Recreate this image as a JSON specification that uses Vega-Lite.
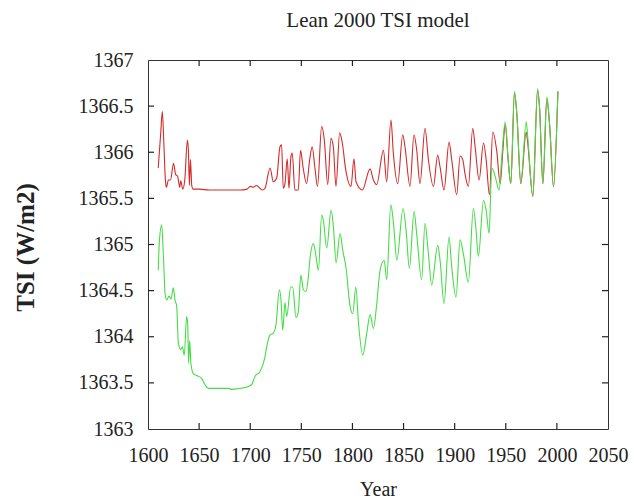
{
  "$schema": "https://vega.github.io/schema/vega-lite/v6.json",
  "width": 460,
  "height": 369,
  "autosize": {"type": "none"},
  "padding": {"left": 148, "top": 60, "right": 26, "bottom": 70},
  "background": "white",
  "title": {"text": "Lean 2000 TSI model", "font": "Liberation Serif", "fontSize": 21, "fontWeight": "normal", "color": "#222", "offset": 19, "anchor": "middle"},
  "config": {
    "view": {"stroke": "#333", "strokeWidth": 1},
    "axis": {"grid": false, "domain": false, "ticks": false, "labelFont": "Liberation Serif", "labelFontSize": 20, "labelColor": "#222", "labelOverlap": false, "labelBound": false, "labelFlush": false, "titleFont": "Liberation Serif", "titleFontSize": 20, "titleColor": "#222"}
  },
  "datasets": {
    "xticks": [{"year": 1650}, {"year": 1700}, {"year": 1750}, {"year": 1800}, {"year": 1850}, {"year": 1900}, {"year": 1950}, {"year": 2000}],
    "yticks": [{"tsi": 1363.5}, {"tsi": 1364}, {"tsi": 1364.5}, {"tsi": 1365}, {"tsi": 1365.5}, {"tsi": 1366}, {"tsi": 1366.5}],
    "tsi": [
    {"series": "Cycle only", "year": 1610, "tsi": 1365.83},
    {"series": "Cycle only", "year": 1612.4, "tsi": 1366.2},
    {"series": "Cycle only", "year": 1614, "tsi": 1366.44},
    {"series": "Cycle only", "year": 1615.5, "tsi": 1366.1},
    {"series": "Cycle only", "year": 1617, "tsi": 1365.7},
    {"series": "Cycle only", "year": 1618, "tsi": 1365.62},
    {"series": "Cycle only", "year": 1620, "tsi": 1365.7},
    {"series": "Cycle only", "year": 1622, "tsi": 1365.7},
    {"series": "Cycle only", "year": 1625, "tsi": 1365.88},
    {"series": "Cycle only", "year": 1627, "tsi": 1365.76},
    {"series": "Cycle only", "year": 1629, "tsi": 1365.74},
    {"series": "Cycle only", "year": 1631, "tsi": 1365.62},
    {"series": "Cycle only", "year": 1632, "tsi": 1365.69},
    {"series": "Cycle only", "year": 1634, "tsi": 1365.6},
    {"series": "Cycle only", "year": 1636, "tsi": 1365.7},
    {"series": "Cycle only", "year": 1638.5, "tsi": 1366.13},
    {"series": "Cycle only", "year": 1639.5, "tsi": 1366.03},
    {"series": "Cycle only", "year": 1640.5, "tsi": 1365.64},
    {"series": "Cycle only", "year": 1641.5, "tsi": 1365.92},
    {"series": "Cycle only", "year": 1642.8, "tsi": 1365.64},
    {"series": "Cycle only", "year": 1644, "tsi": 1365.6},
    {"series": "Cycle only", "year": 1650, "tsi": 1365.6},
    {"series": "Cycle only", "year": 1660, "tsi": 1365.59},
    {"series": "Cycle only", "year": 1670, "tsi": 1365.59},
    {"series": "Cycle only", "year": 1680, "tsi": 1365.59},
    {"series": "Cycle only", "year": 1690, "tsi": 1365.59},
    {"series": "Cycle only", "year": 1697, "tsi": 1365.6},
    {"series": "Cycle only", "year": 1700, "tsi": 1365.63},
    {"series": "Cycle only", "year": 1703, "tsi": 1365.62},
    {"series": "Cycle only", "year": 1706, "tsi": 1365.64},
    {"series": "Cycle only", "year": 1712, "tsi": 1365.59},
    {"series": "Cycle only", "year": 1714.5, "tsi": 1365.61},
    {"series": "Cycle only", "year": 1719.4, "tsi": 1365.83},
    {"series": "Cycle only", "year": 1722.6, "tsi": 1365.68},
    {"series": "Cycle only", "year": 1725.9, "tsi": 1365.72},
    {"series": "Cycle only", "year": 1729.1, "tsi": 1366.06},
    {"series": "Cycle only", "year": 1730.7, "tsi": 1366.08},
    {"series": "Cycle only", "year": 1732.3, "tsi": 1365.61},
    {"series": "Cycle only", "year": 1734, "tsi": 1365.66},
    {"series": "Cycle only", "year": 1736.2, "tsi": 1365.93},
    {"series": "Cycle only", "year": 1737.9, "tsi": 1365.61},
    {"series": "Cycle only", "year": 1739.8, "tsi": 1365.95},
    {"series": "Cycle only", "year": 1741.1, "tsi": 1365.99},
    {"series": "Cycle only", "year": 1743.7, "tsi": 1365.59},
    {"series": "Cycle only", "year": 1747, "tsi": 1365.59},
    {"series": "Cycle only", "year": 1749.2, "tsi": 1366.02},
    {"series": "Cycle only", "year": 1751.8, "tsi": 1365.83},
    {"series": "Cycle only", "year": 1755.1, "tsi": 1365.66},
    {"series": "Cycle only", "year": 1758.3, "tsi": 1365.93},
    {"series": "Cycle only", "year": 1760.6, "tsi": 1366.06},
    {"series": "Cycle only", "year": 1763.2, "tsi": 1365.84},
    {"series": "Cycle only", "year": 1765.8, "tsi": 1365.63},
    {"series": "Cycle only", "year": 1769.9, "tsi": 1366.28},
    {"series": "Cycle only", "year": 1772.5, "tsi": 1366.13},
    {"series": "Cycle only", "year": 1775.8, "tsi": 1365.65},
    {"series": "Cycle only", "year": 1779, "tsi": 1366.15},
    {"series": "Cycle only", "year": 1781.3, "tsi": 1366.06},
    {"series": "Cycle only", "year": 1783.9, "tsi": 1365.63},
    {"series": "Cycle only", "year": 1787.5, "tsi": 1366.21},
    {"series": "Cycle only", "year": 1790.1, "tsi": 1366.1},
    {"series": "Cycle only", "year": 1793.3, "tsi": 1365.82},
    {"series": "Cycle only", "year": 1798.6, "tsi": 1365.63},
    {"series": "Cycle only", "year": 1801.5, "tsi": 1365.93},
    {"series": "Cycle only", "year": 1803.5, "tsi": 1365.68},
    {"series": "Cycle only", "year": 1809.7, "tsi": 1365.59},
    {"series": "Cycle only", "year": 1817.2, "tsi": 1365.82},
    {"series": "Cycle only", "year": 1820.5, "tsi": 1365.7},
    {"series": "Cycle only", "year": 1823.7, "tsi": 1365.65},
    {"series": "Cycle only", "year": 1830.3, "tsi": 1366.02},
    {"series": "Cycle only", "year": 1833.5, "tsi": 1365.68},
    {"series": "Cycle only", "year": 1837.7, "tsi": 1366.35},
    {"series": "Cycle only", "year": 1840, "tsi": 1365.99},
    {"series": "Cycle only", "year": 1844.3, "tsi": 1365.66},
    {"series": "Cycle only", "year": 1849.2, "tsi": 1366.19},
    {"series": "Cycle only", "year": 1851.4, "tsi": 1366.06},
    {"series": "Cycle only", "year": 1856.3, "tsi": 1365.63},
    {"series": "Cycle only", "year": 1860.2, "tsi": 1366.19},
    {"series": "Cycle only", "year": 1862.8, "tsi": 1366.03},
    {"series": "Cycle only", "year": 1866.1, "tsi": 1365.66},
    {"series": "Cycle only", "year": 1871, "tsi": 1366.26},
    {"series": "Cycle only", "year": 1874.3, "tsi": 1365.92},
    {"series": "Cycle only", "year": 1879.2, "tsi": 1365.63},
    {"series": "Cycle only", "year": 1883.4, "tsi": 1365.97},
    {"series": "Cycle only", "year": 1885.7, "tsi": 1365.84},
    {"series": "Cycle only", "year": 1889.6, "tsi": 1365.59},
    {"series": "Cycle only", "year": 1894.5, "tsi": 1366.11},
    {"series": "Cycle only", "year": 1897.1, "tsi": 1365.92},
    {"series": "Cycle only", "year": 1902, "tsi": 1365.54},
    {"series": "Cycle only", "year": 1905.3, "tsi": 1365.96},
    {"series": "Cycle only", "year": 1907.9, "tsi": 1365.92},
    {"series": "Cycle only", "year": 1910.2, "tsi": 1365.76},
    {"series": "Cycle only", "year": 1913.4, "tsi": 1365.63},
    {"series": "Cycle only", "year": 1917.7, "tsi": 1366.26},
    {"series": "Cycle only", "year": 1920, "tsi": 1366.06},
    {"series": "Cycle only", "year": 1923.9, "tsi": 1365.7},
    {"series": "Cycle only", "year": 1928.2, "tsi": 1366.1},
    {"series": "Cycle only", "year": 1930.8, "tsi": 1365.92},
    {"series": "Cycle only", "year": 1934, "tsi": 1365.54},
    {"series": "Cycle only", "year": 1937.3, "tsi": 1366.22},
    {"series": "Cycle only", "year": 1941.2, "tsi": 1366.01},
    {"series": "Cycle only", "year": 1944.5, "tsi": 1365.66},
    {"series": "Cycle only", "year": 1947, "tsi": 1366.0},
    {"series": "Cycle only", "year": 1949.4, "tsi": 1366.3},
    {"series": "Cycle only", "year": 1952.6, "tsi": 1365.88},
    {"series": "Cycle only", "year": 1954.9, "tsi": 1365.66},
    {"series": "Cycle only", "year": 1958.5, "tsi": 1366.64},
    {"series": "Cycle only", "year": 1960.8, "tsi": 1366.42},
    {"series": "Cycle only", "year": 1964.7, "tsi": 1365.66},
    {"series": "Cycle only", "year": 1970, "tsi": 1366.22},
    {"series": "Cycle only", "year": 1971.3, "tsi": 1366.12},
    {"series": "Cycle only", "year": 1976.5, "tsi": 1365.52},
    {"series": "Cycle only", "year": 1981.1, "tsi": 1366.67},
    {"series": "Cycle only", "year": 1983, "tsi": 1366.49},
    {"series": "Cycle only", "year": 1986.3, "tsi": 1365.66},
    {"series": "Cycle only", "year": 1990.2, "tsi": 1366.58},
    {"series": "Cycle only", "year": 1992.8, "tsi": 1366.31},
    {"series": "Cycle only", "year": 1996.7, "tsi": 1365.63},
    {"series": "Cycle only", "year": 2001, "tsi": 1366.66},
    {"series": "With background", "year": 1610, "tsi": 1364.72},
    {"series": "With background", "year": 1611.2, "tsi": 1365.05},
    {"series": "With background", "year": 1613.4, "tsi": 1365.21},
    {"series": "With background", "year": 1615.1, "tsi": 1364.87},
    {"series": "With background", "year": 1616.7, "tsi": 1364.47},
    {"series": "With background", "year": 1618.3, "tsi": 1364.4},
    {"series": "With background", "year": 1620.6, "tsi": 1364.44},
    {"series": "With background", "year": 1622.5, "tsi": 1364.41},
    {"series": "With background", "year": 1624.8, "tsi": 1364.53},
    {"series": "With background", "year": 1626.4, "tsi": 1364.4},
    {"series": "With background", "year": 1628.1, "tsi": 1364.33},
    {"series": "With background", "year": 1629.7, "tsi": 1363.93},
    {"series": "With background", "year": 1632, "tsi": 1363.86},
    {"series": "With background", "year": 1633.6, "tsi": 1363.89},
    {"series": "With background", "year": 1635.5, "tsi": 1363.8},
    {"series": "With background", "year": 1637.8, "tsi": 1364.22},
    {"series": "With background", "year": 1638.8, "tsi": 1364.14},
    {"series": "With background", "year": 1639.8, "tsi": 1363.71},
    {"series": "With background", "year": 1640.7, "tsi": 1363.96},
    {"series": "With background", "year": 1642, "tsi": 1363.71},
    {"series": "With background", "year": 1644.3, "tsi": 1363.6},
    {"series": "With background", "year": 1647.5, "tsi": 1363.58},
    {"series": "With background", "year": 1652.4, "tsi": 1363.55},
    {"series": "With background", "year": 1655.7, "tsi": 1363.48},
    {"series": "With background", "year": 1659, "tsi": 1363.44},
    {"series": "With background", "year": 1670, "tsi": 1363.44},
    {"series": "With background", "year": 1678.6, "tsi": 1363.44},
    {"series": "With background", "year": 1681.8, "tsi": 1363.43},
    {"series": "With background", "year": 1690, "tsi": 1363.44},
    {"series": "With background", "year": 1694.8, "tsi": 1363.45},
    {"series": "With background", "year": 1701.3, "tsi": 1363.48},
    {"series": "With background", "year": 1704.6, "tsi": 1363.57},
    {"series": "With background", "year": 1709.5, "tsi": 1363.62},
    {"series": "With background", "year": 1714.4, "tsi": 1363.78},
    {"series": "With background", "year": 1716.1, "tsi": 1363.89},
    {"series": "With background", "year": 1719.4, "tsi": 1364.02},
    {"series": "With background", "year": 1722.6, "tsi": 1364.04},
    {"series": "With background", "year": 1725.2, "tsi": 1364.13},
    {"series": "With background", "year": 1728.5, "tsi": 1364.51},
    {"series": "With background", "year": 1730.1, "tsi": 1364.4},
    {"series": "With background", "year": 1731.8, "tsi": 1364.07},
    {"series": "With background", "year": 1734, "tsi": 1364.37},
    {"series": "With background", "year": 1735.7, "tsi": 1364.22},
    {"series": "With background", "year": 1739.6, "tsi": 1364.54},
    {"series": "With background", "year": 1741.5, "tsi": 1364.54},
    {"series": "With background", "year": 1744.8, "tsi": 1364.21},
    {"series": "With background", "year": 1747, "tsi": 1364.27},
    {"series": "With background", "year": 1749.6, "tsi": 1364.67},
    {"series": "With background", "year": 1752, "tsi": 1364.51},
    {"series": "With background", "year": 1754.6, "tsi": 1364.49},
    {"series": "With background", "year": 1756.9, "tsi": 1364.65},
    {"series": "With background", "year": 1758.5, "tsi": 1364.85},
    {"series": "With background", "year": 1761.8, "tsi": 1365.01},
    {"series": "With background", "year": 1764.4, "tsi": 1364.87},
    {"series": "With background", "year": 1766.7, "tsi": 1364.72},
    {"series": "With background", "year": 1769.9, "tsi": 1365.32},
    {"series": "With background", "year": 1771.6, "tsi": 1365.26},
    {"series": "With background", "year": 1774.8, "tsi": 1364.96},
    {"series": "With background", "year": 1779.1, "tsi": 1365.37},
    {"series": "With background", "year": 1781.4, "tsi": 1365.19},
    {"series": "With background", "year": 1784, "tsi": 1364.8},
    {"series": "With background", "year": 1787.9, "tsi": 1365.12},
    {"series": "With background", "year": 1790.5, "tsi": 1364.94},
    {"series": "With background", "year": 1793.8, "tsi": 1364.74},
    {"series": "With background", "year": 1797.7, "tsi": 1364.33},
    {"series": "With background", "year": 1800.3, "tsi": 1364.25},
    {"series": "With background", "year": 1803.3, "tsi": 1364.54},
    {"series": "With background", "year": 1805.9, "tsi": 1364.15},
    {"series": "With background", "year": 1810.1, "tsi": 1363.8},
    {"series": "With background", "year": 1814, "tsi": 1364.04},
    {"series": "With background", "year": 1817.3, "tsi": 1364.24},
    {"series": "With background", "year": 1820.5, "tsi": 1364.09},
    {"series": "With background", "year": 1823.8, "tsi": 1364.36},
    {"series": "With background", "year": 1827, "tsi": 1364.72},
    {"series": "With background", "year": 1831, "tsi": 1364.83},
    {"series": "With background", "year": 1833.6, "tsi": 1364.62},
    {"series": "With background", "year": 1837.5, "tsi": 1365.43},
    {"series": "With background", "year": 1840.1, "tsi": 1365.24},
    {"series": "With background", "year": 1843.4, "tsi": 1364.83},
    {"series": "With background", "year": 1849.5, "tsi": 1365.39},
    {"series": "With background", "year": 1852.5, "tsi": 1365.15},
    {"series": "With background", "year": 1855.7, "tsi": 1364.74},
    {"series": "With background", "year": 1860.3, "tsi": 1365.36},
    {"series": "With background", "year": 1862.8, "tsi": 1365.12},
    {"series": "With background", "year": 1867.7, "tsi": 1364.62},
    {"series": "With background", "year": 1871, "tsi": 1365.23},
    {"series": "With background", "year": 1874.3, "tsi": 1364.9},
    {"series": "With background", "year": 1877.5, "tsi": 1364.56},
    {"series": "With background", "year": 1883.4, "tsi": 1364.99},
    {"series": "With background", "year": 1885.7, "tsi": 1364.83},
    {"series": "With background", "year": 1889.6, "tsi": 1364.36},
    {"series": "With background", "year": 1894.5, "tsi": 1365.08},
    {"series": "With background", "year": 1897.1, "tsi": 1364.76},
    {"series": "With background", "year": 1901.3, "tsi": 1364.43},
    {"series": "With background", "year": 1905.3, "tsi": 1365.05},
    {"series": "With background", "year": 1908.5, "tsi": 1364.9},
    {"series": "With background", "year": 1913.4, "tsi": 1364.59},
    {"series": "With background", "year": 1918.3, "tsi": 1365.39},
    {"series": "With background", "year": 1920.9, "tsi": 1365.16},
    {"series": "With background", "year": 1923.2, "tsi": 1364.87},
    {"series": "With background", "year": 1928.2, "tsi": 1365.48},
    {"series": "With background", "year": 1930.8, "tsi": 1365.37},
    {"series": "With background", "year": 1933.7, "tsi": 1365.12},
    {"series": "With background", "year": 1936.3, "tsi": 1365.83},
    {"series": "With background", "year": 1939.6, "tsi": 1365.74},
    {"series": "With background", "year": 1943.5, "tsi": 1365.59},
    {"series": "With background", "year": 1946.1, "tsi": 1365.95},
    {"series": "With background", "year": 1949.4, "tsi": 1366.33},
    {"series": "With background", "year": 1952.6, "tsi": 1365.88},
    {"series": "With background", "year": 1954.9, "tsi": 1365.66},
    {"series": "With background", "year": 1958.5, "tsi": 1366.66},
    {"series": "With background", "year": 1960.8, "tsi": 1366.42},
    {"series": "With background", "year": 1964.7, "tsi": 1365.66},
    {"series": "With background", "year": 1970, "tsi": 1366.33},
    {"series": "With background", "year": 1971.3, "tsi": 1366.19},
    {"series": "With background", "year": 1976.5, "tsi": 1365.52},
    {"series": "With background", "year": 1981.1, "tsi": 1366.69},
    {"series": "With background", "year": 1983, "tsi": 1366.49},
    {"series": "With background", "year": 1986.3, "tsi": 1365.66},
    {"series": "With background", "year": 1990.2, "tsi": 1366.6},
    {"series": "With background", "year": 1992.8, "tsi": 1366.31},
    {"series": "With background", "year": 1996.7, "tsi": 1365.63},
    {"series": "With background", "year": 2001, "tsi": 1366.66}
  ]},
  "layer": [
    {
      "data": {"name": "tsi"},
      "mark": {"type": "line", "interpolate": "monotone", "strokeWidth": 1.1},
      "encoding": {
        "x": {"field": "year", "type": "quantitative", "scale": {"domain": [1600, 2050], "nice": false},
              "axis": {"orient": "bottom", "title": "Year", "format": "d", "values": [1600, 1650, 1700, 1750, 1800, 1850, 1900, 1950, 2000, 2050], "labelPadding": 16, "titleY": 66, "titleBaseline": "alphabetic", "titleFontWeight": "normal"}},
        "y": {"field": "tsi", "type": "quantitative", "scale": {"domain": [1363, 1367], "nice": false, "zero": false},
              "axis": {"orient": "left", "title": "TSI (W/m2)", "format": "~f", "values": [1363, 1363.5, 1364, 1364.5, 1365, 1365.5, 1366, 1366.5, 1367], "labelPadding": 15, "titleX": -123, "titleY": 187, "titleAngle": -90, "titleBaseline": "middle", "titleAlign": "center", "titleFontWeight": "bold", "titleFontSize": 25}},
        "color": {"field": "series", "type": "nominal", "scale": {"domain": ["Cycle only", "With background"], "range": ["#d42a2a", "#45dd45"]}, "legend": null}
      }
    },
    {
      "data": {"name": "xticks"},
      "mark": {"type": "rule", "color": "#222", "strokeWidth": 1.2},
      "encoding": {
        "x": {"field": "year", "type": "quantitative"},
        "y": {"datum": 1363, "type": "quantitative"},
        "y2": {"datum": 1363.065}
      }
    },
    {
      "data": {"name": "xticks"},
      "mark": {"type": "rule", "color": "#222", "strokeWidth": 1.2},
      "encoding": {
        "x": {"field": "year", "type": "quantitative"},
        "y": {"datum": 1367, "type": "quantitative"},
        "y2": {"datum": 1366.935}
      }
    },
    {
      "data": {"name": "yticks"},
      "mark": {"type": "rule", "color": "#222", "strokeWidth": 1.2},
      "encoding": {
        "y": {"field": "tsi", "type": "quantitative"},
        "x": {"datum": 1600, "type": "quantitative"},
        "x2": {"datum": 1605.9}
      }
    },
    {
      "data": {"name": "yticks"},
      "mark": {"type": "rule", "color": "#222", "strokeWidth": 1.2},
      "encoding": {
        "y": {"field": "tsi", "type": "quantitative"},
        "x": {"datum": 2050, "type": "quantitative"},
        "x2": {"datum": 2044.1}
      }
    }
  ]
}
